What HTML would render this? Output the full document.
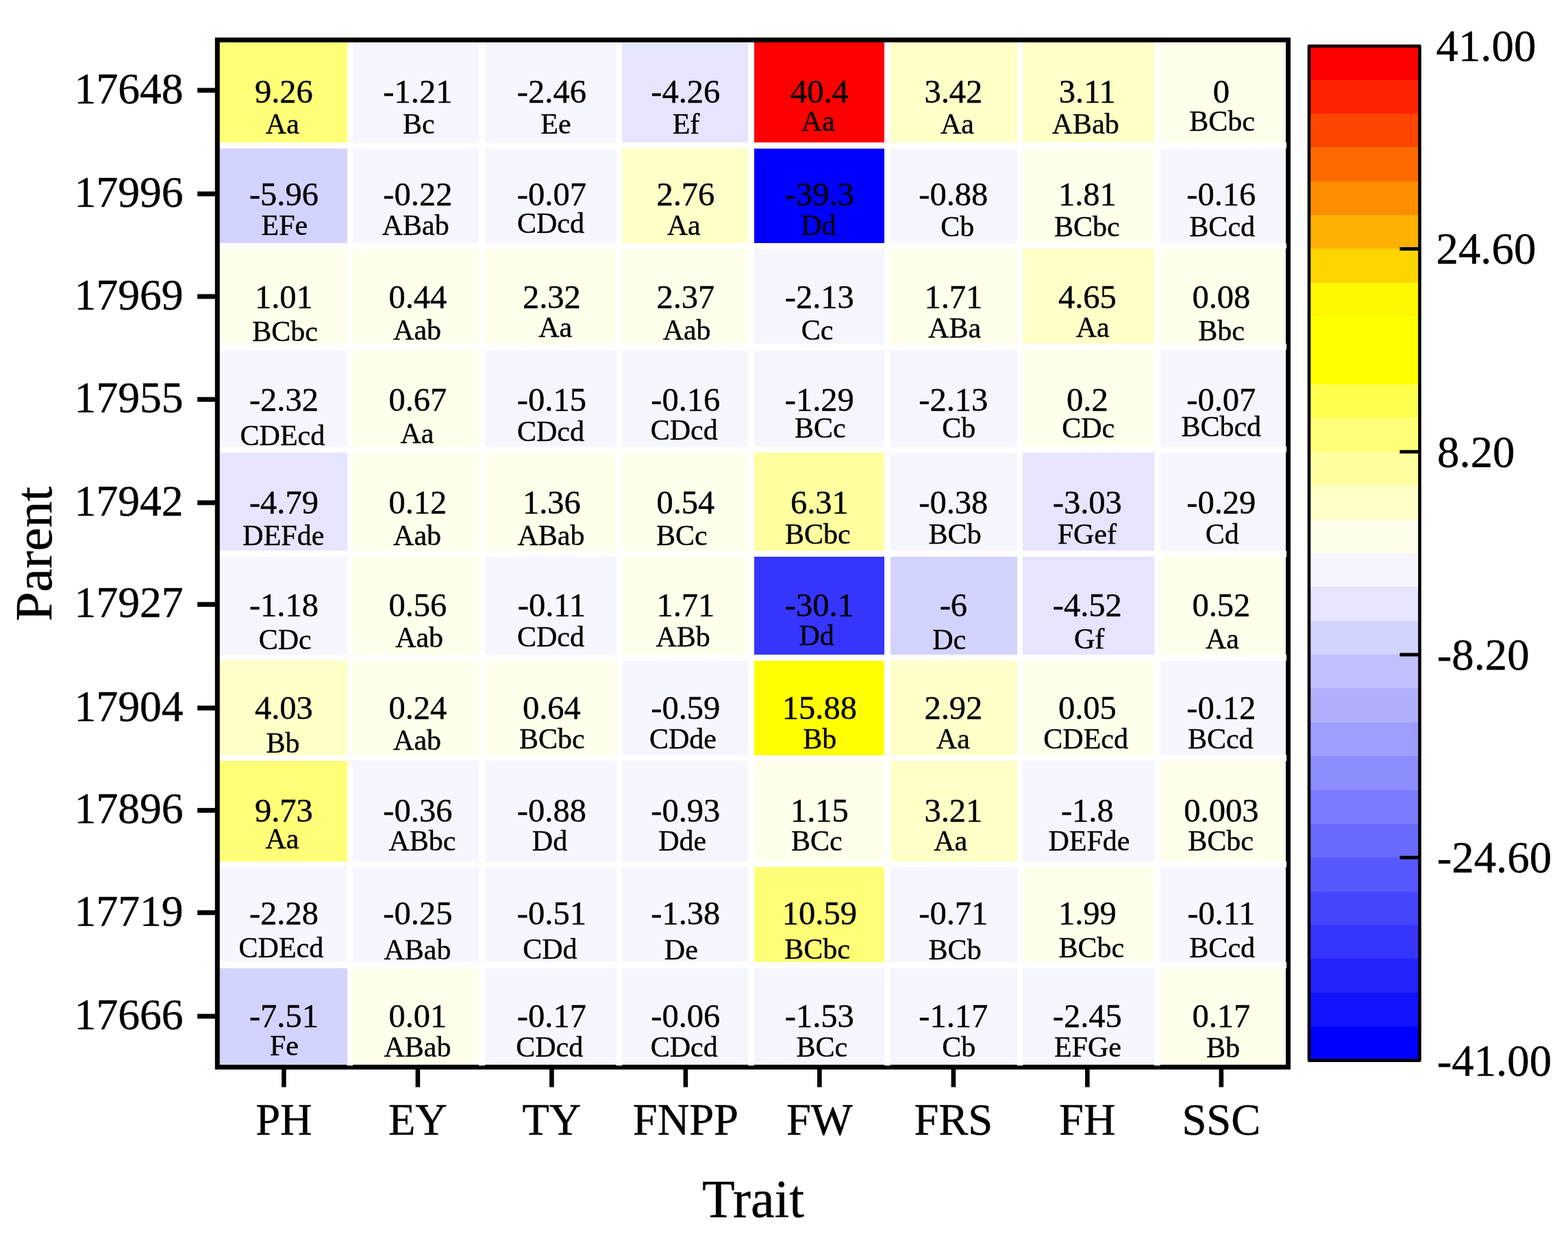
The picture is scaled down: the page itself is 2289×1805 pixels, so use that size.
<!DOCTYPE html>
<html lang="en"><head><meta charset="utf-8"><title>Heatmap: Parent by Trait</title>
<style>
html,body{margin:0;padding:0;background:#fff;}
body{width:2289px;height:1805px;overflow:hidden;}
svg{display:block;}
text{font-family:"Liberation Serif","DejaVu Serif",serif;fill:#000;stroke:#000;stroke-width:0.4px;stroke-linejoin:round;}
.v{font-size:48.5px;text-anchor:middle;}
.l{font-size:42px;text-anchor:middle;}
.yt{font-size:63.6px;text-anchor:end;}
.xt{font-size:64.5px;text-anchor:middle;}
.cb{font-size:64.8px;text-anchor:start;}
.ax{font-size:78px;text-anchor:middle;}
</style></head><body>
<svg width="2289" height="1805" viewBox="0 0 2289 1805">
<rect x="0" y="0" width="2289" height="1805" fill="#fff"/>
<g shape-rendering="crispEdges">
<rect x="314.0" y="55.0" width="192.5" height="153.0" fill="#ffff78"/>
<rect x="515.1" y="55.0" width="183.8" height="153.0" fill="#f6f6ff"/>
<rect x="707.9" y="55.0" width="191.7" height="153.0" fill="#f6f6ff"/>
<rect x="908.3" y="55.0" width="183.9" height="153.0" fill="#e5e5ff"/>
<rect x="1100.9" y="55.0" width="190.2" height="153.0" fill="#ff0000"/>
<rect x="1299.8" y="55.0" width="184.8" height="153.0" fill="#ffffc8"/>
<rect x="1493.3" y="55.0" width="191.7" height="153.0" fill="#ffffc8"/>
<rect x="1693.7" y="55.0" width="184.3" height="153.0" fill="#ffffec"/>
<rect x="314.0" y="216.9" width="192.5" height="138.5" fill="#d3d3ff"/>
<rect x="515.1" y="216.9" width="183.8" height="138.5" fill="#f6f6ff"/>
<rect x="707.9" y="216.9" width="191.7" height="138.5" fill="#f6f6ff"/>
<rect x="908.3" y="216.9" width="183.9" height="138.5" fill="#ffffc8"/>
<rect x="1100.9" y="216.9" width="190.2" height="138.5" fill="#0000ff"/>
<rect x="1299.8" y="216.9" width="184.8" height="138.5" fill="#f6f6ff"/>
<rect x="1493.3" y="216.9" width="191.7" height="138.5" fill="#ffffec"/>
<rect x="1693.7" y="216.9" width="184.3" height="138.5" fill="#f6f6ff"/>
<rect x="314.0" y="363.0" width="192.5" height="139.1" fill="#ffffec"/>
<rect x="515.1" y="363.0" width="183.8" height="139.1" fill="#ffffec"/>
<rect x="707.9" y="363.0" width="191.7" height="139.1" fill="#ffffec"/>
<rect x="908.3" y="363.0" width="183.9" height="139.1" fill="#ffffec"/>
<rect x="1100.9" y="363.0" width="190.2" height="139.1" fill="#f6f6ff"/>
<rect x="1299.8" y="363.0" width="184.8" height="139.1" fill="#ffffec"/>
<rect x="1493.3" y="363.0" width="191.7" height="139.1" fill="#ffffc8"/>
<rect x="1693.7" y="363.0" width="184.3" height="139.1" fill="#ffffec"/>
<rect x="314.0" y="510.7" width="192.5" height="141.3" fill="#f6f6ff"/>
<rect x="515.1" y="510.7" width="183.8" height="141.3" fill="#ffffec"/>
<rect x="707.9" y="510.7" width="191.7" height="141.3" fill="#f6f6ff"/>
<rect x="908.3" y="510.7" width="183.9" height="141.3" fill="#f6f6ff"/>
<rect x="1100.9" y="510.7" width="190.2" height="141.3" fill="#f6f6ff"/>
<rect x="1299.8" y="510.7" width="184.8" height="141.3" fill="#f6f6ff"/>
<rect x="1493.3" y="510.7" width="191.7" height="141.3" fill="#ffffec"/>
<rect x="1693.7" y="510.7" width="184.3" height="141.3" fill="#f6f6ff"/>
<rect x="314.0" y="660.5" width="192.5" height="143.8" fill="#e5e5ff"/>
<rect x="515.1" y="660.5" width="183.8" height="143.8" fill="#ffffec"/>
<rect x="707.9" y="660.5" width="191.7" height="143.8" fill="#ffffec"/>
<rect x="908.3" y="660.5" width="183.9" height="143.8" fill="#ffffec"/>
<rect x="1100.9" y="660.5" width="190.2" height="143.8" fill="#ffffa0"/>
<rect x="1299.8" y="660.5" width="184.8" height="143.8" fill="#f6f6ff"/>
<rect x="1493.3" y="660.5" width="191.7" height="143.8" fill="#e5e5ff"/>
<rect x="1693.7" y="660.5" width="184.3" height="143.8" fill="#f6f6ff"/>
<rect x="314.0" y="813.4" width="192.5" height="142.6" fill="#f6f6ff"/>
<rect x="515.1" y="813.4" width="183.8" height="142.6" fill="#ffffec"/>
<rect x="707.9" y="813.4" width="191.7" height="142.6" fill="#f6f6ff"/>
<rect x="908.3" y="813.4" width="183.9" height="142.6" fill="#ffffec"/>
<rect x="1100.9" y="813.4" width="190.2" height="142.6" fill="#3535ff"/>
<rect x="1299.8" y="813.4" width="184.8" height="142.6" fill="#d3d3ff"/>
<rect x="1493.3" y="813.4" width="191.7" height="142.6" fill="#e5e5ff"/>
<rect x="1693.7" y="813.4" width="184.3" height="142.6" fill="#ffffec"/>
<rect x="314.0" y="964.9" width="192.5" height="137.6" fill="#ffffc8"/>
<rect x="515.1" y="964.9" width="183.8" height="137.6" fill="#ffffec"/>
<rect x="707.9" y="964.9" width="191.7" height="137.6" fill="#ffffec"/>
<rect x="908.3" y="964.9" width="183.9" height="137.6" fill="#f6f6ff"/>
<rect x="1100.9" y="964.9" width="190.2" height="137.6" fill="#ffff00"/>
<rect x="1299.8" y="964.9" width="184.8" height="137.6" fill="#ffffc8"/>
<rect x="1493.3" y="964.9" width="191.7" height="137.6" fill="#ffffec"/>
<rect x="1693.7" y="964.9" width="184.3" height="137.6" fill="#f6f6ff"/>
<rect x="314.0" y="1111.4" width="192.5" height="146.2" fill="#ffff78"/>
<rect x="515.1" y="1111.4" width="183.8" height="146.2" fill="#f6f6ff"/>
<rect x="707.9" y="1111.4" width="191.7" height="146.2" fill="#f6f6ff"/>
<rect x="908.3" y="1111.4" width="183.9" height="146.2" fill="#f6f6ff"/>
<rect x="1100.9" y="1111.4" width="190.2" height="146.2" fill="#ffffec"/>
<rect x="1299.8" y="1111.4" width="184.8" height="146.2" fill="#ffffc8"/>
<rect x="1493.3" y="1111.4" width="191.7" height="146.2" fill="#f6f6ff"/>
<rect x="1693.7" y="1111.4" width="184.3" height="146.2" fill="#ffffec"/>
<rect x="314.0" y="1266.4" width="192.5" height="138.6" fill="#f6f6ff"/>
<rect x="515.1" y="1266.4" width="183.8" height="138.6" fill="#f6f6ff"/>
<rect x="707.9" y="1266.4" width="191.7" height="138.6" fill="#f6f6ff"/>
<rect x="908.3" y="1266.4" width="183.9" height="138.6" fill="#f6f6ff"/>
<rect x="1100.9" y="1266.4" width="190.2" height="138.6" fill="#ffff78"/>
<rect x="1299.8" y="1266.4" width="184.8" height="138.6" fill="#f6f6ff"/>
<rect x="1493.3" y="1266.4" width="191.7" height="138.6" fill="#ffffec"/>
<rect x="1693.7" y="1266.4" width="184.3" height="138.6" fill="#f6f6ff"/>
<rect x="314.0" y="1414.0" width="192.5" height="142.0" fill="#d3d3ff"/>
<rect x="515.1" y="1414.0" width="183.8" height="142.0" fill="#ffffec"/>
<rect x="707.9" y="1414.0" width="191.7" height="142.0" fill="#f6f6ff"/>
<rect x="908.3" y="1414.0" width="183.9" height="142.0" fill="#f6f6ff"/>
<rect x="1100.9" y="1414.0" width="190.2" height="142.0" fill="#f6f6ff"/>
<rect x="1299.8" y="1414.0" width="184.8" height="142.0" fill="#f6f6ff"/>
<rect x="1493.3" y="1414.0" width="191.7" height="142.0" fill="#f6f6ff"/>
<rect x="1693.7" y="1414.0" width="184.3" height="142.0" fill="#ffffec"/>
</g>
<rect x="320" y="1553.0" width="1558" height="2.2" fill="#fff" fill-opacity="0.3"/>
<rect x="1875.7" y="61" width="1.6" height="1494" fill="#fff" fill-opacity="0.3"/>
<rect x="317.30" y="58.30" width="1563.20" height="1500.05" fill="none" stroke="#000" stroke-width="7.00"/>
<rect x="506.50" y="1553.25" width="8.60" height="2.80" fill="#fff"/>
<rect x="698.90" y="1553.25" width="9.00" height="2.80" fill="#fff"/>
<rect x="899.60" y="1553.25" width="8.70" height="2.80" fill="#fff"/>
<rect x="1092.20" y="1553.25" width="8.70" height="2.80" fill="#fff"/>
<rect x="1291.10" y="1553.25" width="8.70" height="2.80" fill="#fff"/>
<rect x="1484.60" y="1553.25" width="8.70" height="2.80" fill="#fff"/>
<rect x="1685.00" y="1553.25" width="8.70" height="2.80" fill="#fff"/>
<rect x="1875.80" y="208.00" width="2.30" height="8.90" fill="#fff"/>
<rect x="1875.80" y="355.40" width="2.30" height="7.60" fill="#fff"/>
<rect x="1875.80" y="502.10" width="2.30" height="8.60" fill="#fff"/>
<rect x="1875.80" y="652.00" width="2.30" height="8.50" fill="#fff"/>
<rect x="1875.80" y="804.30" width="2.30" height="9.10" fill="#fff"/>
<rect x="1875.80" y="956.00" width="2.30" height="8.90" fill="#fff"/>
<rect x="1875.80" y="1102.50" width="2.30" height="8.90" fill="#fff"/>
<rect x="1875.80" y="1257.60" width="2.30" height="8.80" fill="#fff"/>
<rect x="1875.80" y="1405.00" width="2.30" height="9.00" fill="#fff"/>
<rect x="288.20" y="128.40" width="29.10" height="7.00" fill="#000"/>
<rect x="288.20" y="279.60" width="29.10" height="7.00" fill="#000"/>
<rect x="288.20" y="429.50" width="29.10" height="7.00" fill="#000"/>
<rect x="288.20" y="579.80" width="29.10" height="7.00" fill="#000"/>
<rect x="288.20" y="730.60" width="29.10" height="7.00" fill="#000"/>
<rect x="288.20" y="879.20" width="29.10" height="7.00" fill="#000"/>
<rect x="288.20" y="1030.50" width="29.10" height="7.00" fill="#000"/>
<rect x="288.20" y="1179.90" width="29.10" height="7.00" fill="#000"/>
<rect x="288.20" y="1329.30" width="29.10" height="7.00" fill="#000"/>
<rect x="288.20" y="1480.60" width="29.10" height="7.00" fill="#000"/>
<rect x="411.10" y="1558.35" width="6.60" height="29.25" fill="#000"/>
<rect x="606.59" y="1558.35" width="6.60" height="29.25" fill="#000"/>
<rect x="802.08" y="1558.35" width="6.60" height="29.25" fill="#000"/>
<rect x="997.57" y="1558.35" width="6.60" height="29.25" fill="#000"/>
<rect x="1193.06" y="1558.35" width="6.60" height="29.25" fill="#000"/>
<rect x="1388.55" y="1558.35" width="6.60" height="29.25" fill="#000"/>
<rect x="1584.04" y="1558.35" width="6.60" height="29.25" fill="#000"/>
<rect x="1779.53" y="1558.35" width="6.60" height="29.25" fill="#000"/>
<text class="yt" x="267.60" y="150.60">17648</text>
<text class="yt" x="267.60" y="301.80">17996</text>
<text class="yt" x="267.60" y="451.70">17969</text>
<text class="yt" x="267.60" y="602.00">17955</text>
<text class="yt" x="267.60" y="752.80">17942</text>
<text class="yt" x="267.60" y="901.40">17927</text>
<text class="yt" x="267.60" y="1052.70">17904</text>
<text class="yt" x="267.60" y="1202.10">17896</text>
<text class="yt" x="267.60" y="1351.50">17719</text>
<text class="yt" x="267.60" y="1502.80">17666</text>
<text class="xt" x="414.40" y="1656.90">PH</text>
<text class="xt" x="609.89" y="1656.90">EY</text>
<text class="xt" x="805.38" y="1656.90">TY</text>
<text class="xt" x="1000.87" y="1656.90">FNPP</text>
<text class="xt" x="1196.36" y="1656.90">FW</text>
<text class="xt" x="1391.85" y="1656.90">FRS</text>
<text class="xt" x="1587.34" y="1656.90">FH</text>
<text class="xt" x="1782.83" y="1656.90">SSC</text>
<text class="ax" x="1099.50" y="1777.00">Trait</text>
<text class="ax" style="font-size:77px" transform="translate(75.00 809.00) rotate(-90)" x="0" y="0">Parent</text>
<text class="v" x="414.40" y="149.70">9.26</text>
<text class="l" x="412.33" y="194.85">Aa</text>
<text class="v" x="609.89" y="149.70">-1.21</text>
<text class="l" x="611.34" y="194.85">Bc</text>
<text class="v" x="805.38" y="149.70">-2.46</text>
<text class="l" x="811.43" y="194.85">Ee</text>
<text class="v" x="1000.87" y="149.70">-4.26</text>
<text class="l" x="1001.49" y="194.85">Ef</text>
<text class="v" x="1196.36" y="149.70">40.4</text>
<text class="l" x="1194.31" y="190.55">Aa</text>
<text class="v" x="1391.85" y="149.70">3.42</text>
<text class="l" x="1397.50" y="194.85">Aa</text>
<text class="v" x="1587.34" y="149.70">3.11</text>
<text class="l" x="1584.79" y="194.85">ABab</text>
<text class="v" x="1782.83" y="149.70">0</text>
<text class="l" x="1784.08" y="190.55">BCbc</text>
<text class="v" x="414.40" y="299.74">-5.96</text>
<text class="l" x="415.35" y="343.35">EFe</text>
<text class="v" x="609.89" y="299.74">-0.22</text>
<text class="l" x="606.74" y="343.35">ABab</text>
<text class="v" x="805.38" y="299.74">-0.07</text>
<text class="l" x="803.98" y="339.75">CDcd</text>
<text class="v" x="1000.87" y="299.74">2.76</text>
<text class="l" x="998.12" y="343.35">Aa</text>
<text class="v" x="1196.36" y="299.74">-39.3</text>
<text class="l" x="1194.81" y="343.35">Dd</text>
<text class="v" x="1391.85" y="299.74">-0.88</text>
<text class="l" x="1397.88" y="345.15">Cb</text>
<text class="v" x="1587.34" y="299.74">1.81</text>
<text class="l" x="1586.89" y="345.15">BCbc</text>
<text class="v" x="1782.83" y="299.74">-0.16</text>
<text class="l" x="1784.21" y="345.15">BCcd</text>
<text class="v" x="414.40" y="449.78">1.01</text>
<text class="l" x="416.15" y="498.05">BCbc</text>
<text class="v" x="609.89" y="449.78">0.44</text>
<text class="l" x="609.04" y="495.85">Aab</text>
<text class="v" x="805.38" y="449.78">2.32</text>
<text class="l" x="810.73" y="492.25">Aa</text>
<text class="v" x="1000.87" y="449.78">2.37</text>
<text class="l" x="1002.62" y="495.85">Aab</text>
<text class="v" x="1196.36" y="449.78">-2.13</text>
<text class="l" x="1192.96" y="495.85">Cc</text>
<text class="v" x="1391.85" y="449.78">1.71</text>
<text class="l" x="1393.60" y="493.35">ABa</text>
<text class="v" x="1587.34" y="449.78">4.65</text>
<text class="l" x="1595.19" y="492.25">Aa</text>
<text class="v" x="1782.83" y="449.78">0.08</text>
<text class="l" x="1782.98" y="496.65">Bbc</text>
<text class="v" x="414.40" y="599.82">-2.32</text>
<text class="l" x="412.42" y="650.25">CDEcd</text>
<text class="v" x="609.89" y="599.82">0.67</text>
<text class="l" x="608.94" y="646.95">Aa</text>
<text class="v" x="805.38" y="599.82">-0.15</text>
<text class="l" x="803.98" y="644.05">CDcd</text>
<text class="v" x="1000.87" y="599.82">-0.16</text>
<text class="l" x="998.77" y="641.55">CDcd</text>
<text class="v" x="1196.36" y="599.82">-1.29</text>
<text class="l" x="1197.31" y="639.35">BCc</text>
<text class="v" x="1391.85" y="599.82">-2.13</text>
<text class="l" x="1399.68" y="639.35">Cb</text>
<text class="v" x="1587.34" y="599.82">0.2</text>
<text class="l" x="1588.74" y="639.35">CDc</text>
<text class="v" x="1782.83" y="599.82">-0.07</text>
<text class="l" x="1782.80" y="636.85">BCbcd</text>
<text class="v" x="414.40" y="749.86">-4.79</text>
<text class="l" x="413.83" y="796.15">DEFde</text>
<text class="v" x="609.89" y="749.86">0.12</text>
<text class="l" x="609.04" y="796.15">Aab</text>
<text class="v" x="805.38" y="749.86">1.36</text>
<text class="l" x="804.43" y="796.15">ABab</text>
<text class="v" x="1000.87" y="749.86">0.54</text>
<text class="l" x="995.32" y="796.15">BCc</text>
<text class="v" x="1196.36" y="749.86">6.31</text>
<text class="l" x="1193.91" y="793.95">BCbc</text>
<text class="v" x="1391.85" y="749.86">-0.38</text>
<text class="l" x="1394.13" y="793.95">BCb</text>
<text class="v" x="1587.34" y="749.86">-3.03</text>
<text class="l" x="1586.84" y="793.95">FGef</text>
<text class="v" x="1782.83" y="749.86">-0.29</text>
<text class="l" x="1784.36" y="793.95">Cd</text>
<text class="v" x="414.40" y="899.90">-1.18</text>
<text class="l" x="416.28" y="947.65">CDc</text>
<text class="v" x="609.89" y="899.90">0.56</text>
<text class="l" x="612.14" y="945.15">Aab</text>
<text class="v" x="805.38" y="899.90">-0.11</text>
<text class="l" x="803.98" y="944.05">CDcd</text>
<text class="v" x="1000.87" y="899.90">1.71</text>
<text class="l" x="997.20" y="944.05">ABb</text>
<text class="v" x="1196.36" y="899.90">-30.1</text>
<text class="l" x="1192.11" y="942.25">Dd</text>
<text class="v" x="1391.85" y="899.90">-6</text>
<text class="l" x="1385.68" y="947.65">Dc</text>
<text class="v" x="1587.34" y="899.90">-4.52</text>
<text class="l" x="1590.19" y="946.65">Gf</text>
<text class="v" x="1782.83" y="899.90">0.52</text>
<text class="l" x="1784.38" y="946.65">Aa</text>
<text class="v" x="414.40" y="1049.94">4.03</text>
<text class="l" x="413.05" y="1099.45">Bb</text>
<text class="v" x="609.89" y="1049.94">0.24</text>
<text class="l" x="609.04" y="1095.05">Aab</text>
<text class="v" x="805.38" y="1049.94">0.64</text>
<text class="l" x="805.83" y="1093.25">BCbc</text>
<text class="v" x="1000.87" y="1049.94">-0.59</text>
<text class="l" x="996.97" y="1093.25">CDde</text>
<text class="v" x="1196.36" y="1049.94">15.88</text>
<text class="l" x="1196.81" y="1093.25">Bb</text>
<text class="v" x="1391.85" y="1049.94">2.92</text>
<text class="l" x="1391.30" y="1093.25">Aa</text>
<text class="v" x="1587.34" y="1049.94">0.05</text>
<text class="l" x="1585.17" y="1093.25">CDEcd</text>
<text class="v" x="1782.83" y="1049.94">-0.12</text>
<text class="l" x="1781.80" y="1093.25">BCcd</text>
<text class="v" x="414.40" y="1199.98">9.73</text>
<text class="l" x="412.02" y="1239.35">Aa</text>
<text class="v" x="609.89" y="1199.98">-0.36</text>
<text class="l" x="616.41" y="1242.25">ABbc</text>
<text class="v" x="805.38" y="1199.98">-0.88</text>
<text class="l" x="802.53" y="1241.55">Dd</text>
<text class="v" x="1000.87" y="1199.98">-0.93</text>
<text class="l" x="996.12" y="1242.25">Dde</text>
<text class="v" x="1196.36" y="1199.98">1.15</text>
<text class="l" x="1192.31" y="1241.55">BCc</text>
<text class="v" x="1391.85" y="1199.98">3.21</text>
<text class="l" x="1387.70" y="1241.55">Aa</text>
<text class="v" x="1587.34" y="1199.98">-1.8</text>
<text class="l" x="1590.01" y="1241.55">DEFde</text>
<text class="v" x="1782.83" y="1199.98">0.003</text>
<text class="l" x="1782.18" y="1241.55">BCbc</text>
<text class="v" x="414.40" y="1350.02">-2.28</text>
<text class="l" x="410.42" y="1397.65">CDEcd</text>
<text class="v" x="609.89" y="1350.02">-0.25</text>
<text class="l" x="609.44" y="1400.55">ABab</text>
<text class="v" x="805.38" y="1350.02">-0.51</text>
<text class="l" x="802.88" y="1399.55">CDd</text>
<text class="v" x="1000.87" y="1350.02">-1.38</text>
<text class="l" x="994.32" y="1400.55">De</text>
<text class="v" x="1196.36" y="1350.02">10.59</text>
<text class="l" x="1193.01" y="1399.55">BCbc</text>
<text class="v" x="1391.85" y="1350.02">-0.71</text>
<text class="l" x="1394.13" y="1400.55">BCb</text>
<text class="v" x="1587.34" y="1350.02">1.99</text>
<text class="l" x="1593.39" y="1397.65">BCbc</text>
<text class="v" x="1782.83" y="1350.02">-0.11</text>
<text class="l" x="1784.21" y="1398.45">BCcd</text>
<text class="v" x="414.40" y="1500.06">-7.51</text>
<text class="l" x="415.02" y="1541.45">Fe</text>
<text class="v" x="609.89" y="1500.06">0.01</text>
<text class="l" x="609.44" y="1542.55">ABab</text>
<text class="v" x="805.38" y="1500.06">-0.17</text>
<text class="l" x="802.28" y="1542.55">CDcd</text>
<text class="v" x="1000.87" y="1500.06">-0.06</text>
<text class="l" x="998.77" y="1542.55">CDcd</text>
<text class="v" x="1196.36" y="1500.06">-1.53</text>
<text class="l" x="1199.91" y="1542.55">BCc</text>
<text class="v" x="1391.85" y="1500.06">-1.17</text>
<text class="l" x="1399.68" y="1542.55">Cb</text>
<text class="v" x="1587.34" y="1500.06">-2.45</text>
<text class="l" x="1587.92" y="1542.55">EFGe</text>
<text class="v" x="1782.83" y="1500.06">0.17</text>
<text class="l" x="1785.41" y="1544.35">Bb</text>
<g shape-rendering="crispEdges">
<rect x="1911.00" y="67.20" width="161.50" height="49.98" fill="#ff0000"/>
<rect x="1911.00" y="116.58" width="161.50" height="49.98" fill="#ff2300"/>
<rect x="1911.00" y="165.96" width="161.50" height="49.98" fill="#ff4600"/>
<rect x="1911.00" y="215.34" width="161.50" height="49.98" fill="#ff6a00"/>
<rect x="1911.00" y="264.72" width="161.50" height="49.98" fill="#ff8d00"/>
<rect x="1911.00" y="314.10" width="161.50" height="49.98" fill="#ffb000"/>
<rect x="1911.00" y="363.48" width="161.50" height="49.98" fill="#ffd500"/>
<rect x="1911.00" y="412.86" width="161.50" height="49.98" fill="#fff800"/>
<rect x="1911.00" y="462.24" width="161.50" height="49.98" fill="#ffff00"/>
<rect x="1911.00" y="511.62" width="161.50" height="49.98" fill="#ffff00"/>
<rect x="1911.00" y="561.00" width="161.50" height="49.98" fill="#ffff4e"/>
<rect x="1911.00" y="610.38" width="161.50" height="49.98" fill="#ffff78"/>
<rect x="1911.00" y="659.76" width="161.50" height="49.98" fill="#ffffa0"/>
<rect x="1911.00" y="709.14" width="161.50" height="49.98" fill="#ffffc8"/>
<rect x="1911.00" y="758.52" width="161.50" height="49.98" fill="#ffffec"/>
<rect x="1911.00" y="807.90" width="161.50" height="49.98" fill="#f6f6ff"/>
<rect x="1911.00" y="857.28" width="161.50" height="49.98" fill="#e5e5ff"/>
<rect x="1911.00" y="906.66" width="161.50" height="49.98" fill="#d3d3ff"/>
<rect x="1911.00" y="956.04" width="161.50" height="49.98" fill="#c1c1ff"/>
<rect x="1911.00" y="1005.42" width="161.50" height="49.98" fill="#b0b0ff"/>
<rect x="1911.00" y="1054.80" width="161.50" height="49.98" fill="#9e9eff"/>
<rect x="1911.00" y="1104.18" width="161.50" height="49.98" fill="#8d8dff"/>
<rect x="1911.00" y="1153.56" width="161.50" height="49.98" fill="#7b7bff"/>
<rect x="1911.00" y="1202.94" width="161.50" height="49.98" fill="#6a6aff"/>
<rect x="1911.00" y="1252.32" width="161.50" height="49.98" fill="#5858ff"/>
<rect x="1911.00" y="1301.70" width="161.50" height="49.98" fill="#4646ff"/>
<rect x="1911.00" y="1351.08" width="161.50" height="49.98" fill="#3535ff"/>
<rect x="1911.00" y="1400.46" width="161.50" height="49.98" fill="#2323ff"/>
<rect x="1911.00" y="1449.84" width="161.50" height="49.98" fill="#1212ff"/>
<rect x="1911.00" y="1499.22" width="161.50" height="49.38" fill="#0000ff"/>
</g>
<rect x="1911.00" y="67.20" width="161.50" height="1481.40" fill="none" stroke="#000" stroke-width="4.60" stroke-linejoin="round"/>
<text class="cb" x="2096.50" y="89.20">41.00</text>
<rect x="2043.40" y="360.98" width="29.10" height="5.00" fill="#000"/>
<text class="cb" x="2096.50" y="385.48">24.60</text>
<rect x="2043.40" y="657.26" width="29.10" height="5.00" fill="#000"/>
<text class="cb" x="2098.10" y="681.76">8.20</text>
<rect x="2043.40" y="953.54" width="29.10" height="5.00" fill="#000"/>
<text class="cb" x="2097.70" y="978.04">-8.20</text>
<rect x="2043.40" y="1249.82" width="29.10" height="5.00" fill="#000"/>
<text class="cb" x="2097.70" y="1274.32">-24.60</text>
<text class="cb" x="2097.70" y="1570.60">-41.00</text>
</svg>
</body></html>
